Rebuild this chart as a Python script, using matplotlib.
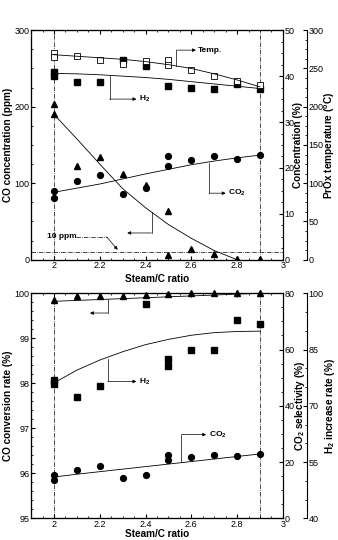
import matplotlib
matplotlib.use('Agg')
import matplotlib.pyplot as plt
from matplotlib.ticker import MultipleLocator, FixedLocator

plt.rcParams['font.family'] = ['Liberation Sans', 'DejaVu Sans']
plt.rcParams['mathtext.default'] = 'regular'
plt.rcParams['font.size'] = 6.5

# ---------------- top panel data ----------------
temp_x = [2.0, 2.0, 2.1, 2.2, 2.3, 2.4, 2.5, 2.5, 2.6, 2.7, 2.8, 2.9]
temp_y = [270, 265, 266, 261, 256, 260, 261, 254, 248, 240, 234, 229]
h2_x = [2.0, 2.0, 2.1, 2.2, 2.3, 2.4, 2.5, 2.6, 2.7, 2.8, 2.9]
h2_y = [40.8, 40.0, 38.7, 38.7, 43.5, 42.2, 37.8, 37.5, 37.1, 38.3, 37.3]
co_x = [2.0, 2.0, 2.1, 2.2, 2.3, 2.4, 2.5, 2.5, 2.6, 2.7, 2.8, 2.9]
co_y = [203, 190, 122, 134, 112, 98, 64, 6, 14, 8, 1, 1]
co2_x = [2.0, 2.0, 2.1, 2.2, 2.3, 2.4, 2.5, 2.5, 2.6, 2.7, 2.8, 2.9]
co2_y = [15.0, 13.5, 17.2, 18.5, 14.3, 15.7, 22.5, 20.5, 21.7, 22.7, 22.0, 22.8]

# fitted curves
fit_x = [2.0, 2.1, 2.2, 2.3, 2.4, 2.5, 2.6, 2.7, 2.8, 2.9]
temp_fit = [268, 266, 264, 262, 259, 255, 250, 243, 235, 226]
h2_fit = [40.6, 40.5, 40.3, 40.0, 39.7, 39.3, 38.8, 38.3, 37.8, 37.3]
co_fit_x = [2.0, 2.1, 2.2, 2.3, 2.4, 2.5, 2.6, 2.7, 2.8]
co_fit = [190, 158, 125, 93, 68, 46, 28, 12, 0]
co2_fit = [14.7, 15.6, 16.5, 17.6, 18.7, 19.7, 20.7, 21.5, 22.2, 22.8]

# ---------------- bottom panel data ----------------
conv_x = [2.0, 2.1, 2.2, 2.3, 2.4, 2.5, 2.6, 2.7, 2.8, 2.9]
conv_y = [99.86, 99.93, 99.93, 99.93, 99.95, 99.99, 100.0, 100.0, 100.0, 100.0]
h2inc_x = [2.0, 2.0, 2.1, 2.2, 2.4, 2.5, 2.5, 2.6, 2.7, 2.8, 2.9]
h2inc_y = [77.0, 75.8, 72.4, 75.3, 97.0, 82.5, 80.7, 84.8, 84.9, 92.9, 91.7]
sel_x = [2.0, 2.0, 2.1, 2.2, 2.3, 2.4, 2.5, 2.5, 2.6, 2.7, 2.8, 2.9]
sel_y = [15.4, 13.6, 17.3, 18.5, 14.3, 15.5, 22.6, 20.7, 21.9, 22.6, 22.0, 23.0]

conv_fit = [99.82, 99.84, 99.86, 99.88, 99.90, 99.92, 99.94, 99.96, 99.98, 100.0]
h2inc_fit = [76.1, 79.5, 82.2, 84.4, 86.3, 87.7, 88.8, 89.5, 89.8, 89.9]
sel_fit = [14.7, 15.7, 16.6, 17.5, 18.4, 19.3, 20.2, 21.1, 22.0, 22.9]

x_ticks = [2.0, 2.2, 2.4, 2.6, 2.8, 3.0]
x_ticklabels = ['2', '2.2', '2.4', '2.6', '2.8', '3']
h2inc_ticks = [40, 55, 70, 85, 100]

fig = plt.figure(figsize=(3.38, 5.40), dpi=100)
ax1 = fig.add_axes([0.092, 0.519, 0.745, 0.425])
ax3 = fig.add_axes([0.092, 0.040, 0.745, 0.417])

ms = 4.2
lw = 0.6
lab_fs = 7.2


def style_x(ax):
    ax.set_xlim(1.9, 3.0)
    ax.xaxis.set_minor_locator(MultipleLocator(0.05))
    ax.set_xticks(x_ticks)
    ax.set_xticklabels(x_ticklabels)
    ax.tick_params(axis='both', which='both', direction='in', top=True, pad=1.2)
    ax.tick_params(which='major', length=3)
    ax.tick_params(which='minor', length=1.5)
    ax.set_xlabel('Steam/C ratio', fontweight='bold', fontsize=lab_fs, labelpad=0)
    for s in ax.spines.values():
        s.set_linewidth(0.8)


def add_twins(ax, lo1, hi1, loc1, minor1, label1, lo2, hi2, loc2, minor2, label2):
    t1 = ax.twinx()
    t1.set_ylim(lo1, hi1)
    t1.yaxis.set_major_locator(loc1)
    t1.yaxis.set_minor_locator(MultipleLocator(minor1))
    t1.tick_params(which='both', direction='in', pad=1.2)
    t1.tick_params(which='major', length=3)
    t1.tick_params(which='minor', length=1.5)
    t1.set_ylabel(label1, fontweight='bold', fontsize=lab_fs, labelpad=-1)
    t2 = ax.twinx()
    t2.spines['right'].set_position(('axes', 1.095))
    t2.set_ylim(lo2, hi2)
    t2.yaxis.set_major_locator(loc2)
    t2.yaxis.set_minor_locator(MultipleLocator(minor2))
    t2.tick_params(which='both', direction='in', pad=1.2)
    t2.tick_params(which='major', length=3)
    t2.tick_params(which='minor', length=1.5)
    t2.set_ylabel(label2, fontweight='bold', fontsize=lab_fs, labelpad=-0.5)
    for a in (t1, t2):
        for s in a.spines.values():
            s.set_linewidth(0.8)
    return t1, t2


def elbow(ax, p0, p1, p2, text=None):
    ax.plot([p0[0], p1[0]], [p0[1], p1[1]], color='k', lw=0.5)
    ax.annotate('', xy=p2, xytext=p1,
                arrowprops=dict(arrowstyle='-|>', lw=0.5, color='k',
                                mutation_scale=5, shrinkA=0, shrinkB=0))
    if text:
        ax.text(p2[0] + 0.01, p2[1], text, fontsize=6, fontweight='bold',
                va='center', ha='left')


# ---------------- top panel ----------------
style_x(ax1)
ax1.set_ylim(0, 300)
ax1.yaxis.set_major_locator(MultipleLocator(100))
ax1.yaxis.set_minor_locator(MultipleLocator(25))
ax1.set_ylabel('CO concentration (ppm)', fontweight='bold', fontsize=lab_fs, labelpad=1)
ax1.xaxis.set_label_coords(0.5, -0.06)
ax2, ax2b = add_twins(ax1, 0, 50, MultipleLocator(10), 2.5, 'Concentration (%)',
                      0, 300, MultipleLocator(50), 12.5, 'PrOx temperature ($^o$C)')

ax1.axvline(2.0, color='k', lw=0.5, ls='-.')
ax1.axvline(2.9, color='k', lw=0.5, ls='-.')
ax1.axhline(10, color='k', lw=0.5, ls='-.')

ax1.plot(co_x, co_y, '^', color='k', ms=ms)
ax1.plot(co_fit_x, co_fit, '-', color='k', lw=lw)
ax2.plot(h2_x, h2_y, 's', color='k', ms=ms)
ax2.plot(fit_x, h2_fit, '-', color='k', lw=lw)
ax2.plot(co2_x, co2_y, 'o', color='k', ms=ms)
ax2.plot(fit_x, co2_fit, '-', color='k', lw=lw)
ax2b.plot(temp_x, temp_y, 's', mfc='white', mec='k', mew=0.6, ms=ms)
ax2b.plot(fit_x, temp_fit, '-', color='k', lw=lw)

elbow(ax1, (2.535, 253), (2.535, 274), (2.62, 274), 'Temp.')
elbow(ax1, (2.243, 240), (2.243, 210), (2.36, 210), 'H$_2$')
elbow(ax1, (2.678, 126), (2.678, 87), (2.75, 87), 'CO$_2$')
elbow(ax1, (2.426, 62), (2.426, 35), (2.32, 35))
ax1.text(1.97, 30, '10 ppm', fontsize=6, fontweight='bold', va='center')
ax1.plot([2.095, 2.23], [30, 30], color='k', lw=0.5, ls='-.')
ax1.annotate('', xy=(2.278, 13), xytext=(2.23, 30),
             arrowprops=dict(arrowstyle='-|>', lw=0.5, color='k',
                             mutation_scale=5, shrinkA=0, shrinkB=0))

# ---------------- bottom panel ----------------
style_x(ax3)
ax3.set_ylim(95, 100)
ax3.yaxis.set_major_locator(MultipleLocator(1))
ax3.yaxis.set_minor_locator(MultipleLocator(0.2))
ax3.set_ylabel('CO conversion rate (%)', fontweight='bold', fontsize=lab_fs, labelpad=1)
ax3.xaxis.set_label_coords(0.5, -0.045)
ax4, ax4b = add_twins(ax3, 0, 80, MultipleLocator(20), 5, 'CO$_2$ selectivity (%)',
                      40, 100, FixedLocator(h2inc_ticks), 5, 'H$_2$ increase rate (%)')

ax3.axvline(2.0, color='k', lw=0.5, ls='-.')
ax3.axvline(2.9, color='k', lw=0.5, ls='-.')

ax3.plot(conv_x, conv_y, '^', color='k', ms=ms, clip_on=False)
ax3.plot(fit_x, conv_fit, '-', color='k', lw=lw)
ax4.plot(sel_x, sel_y, 'o', color='k', ms=ms)
ax4.plot(fit_x, sel_fit, '-', color='k', lw=lw)
ax4b.plot(h2inc_x, h2inc_y, 's', color='k', ms=ms)
ax4b.plot(fit_x, h2inc_fit, '-', color='k', lw=lw)

elbow(ax3, (2.235, 99.87), (2.235, 99.56), (2.157, 99.56))
elbow(ax3, (2.235, 98.54), (2.235, 98.04), (2.36, 98.04), 'H$_2$')
elbow(ax3, (2.557, 96.25), (2.557, 96.86), (2.665, 96.86), 'CO$_2$')

fig.savefig('out.png', dpi=100)
